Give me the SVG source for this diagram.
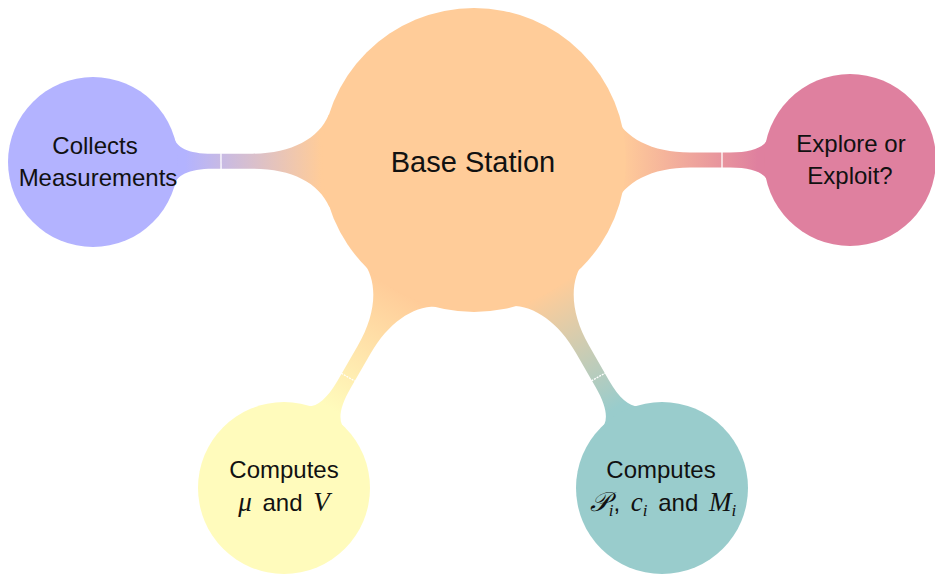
<svg xmlns="http://www.w3.org/2000/svg" width="935" height="574" viewBox="0 0 935 574">
<style>
text{font-family:"Liberation Sans",Arial,sans-serif;fill:#111;text-anchor:middle}
.t{font-size:24px}
.b{font-size:29px}
.mline{word-spacing:4px}
.m{font-family:"Liberation Serif","DejaVu Serif",serif;font-style:italic;font-size:27px}
.sub{font-size:17px}
.sep{stroke:#fff;stroke-width:1.3;fill:none}
</style>
<defs>
<path id="conn" d="M70,-25 L81,-25 C83,-14 95,-7.5 120,-7.5 L160,-7.5 C198,-7.5 226,-22 236,-46 L252,-46 L252,46 L236,46 C226,22 198,7.5 160,7.5 L120,7.5 C95,7.5 83,14 81,25 L70,25 Z"/>
<linearGradient id="gP" gradientUnits="userSpaceOnUse" x1="85" y1="0" x2="228" y2="0"><stop offset="0.05" stop-color="#B3B3FF"/><stop offset="1" stop-color="#FFCC99"/></linearGradient>
<linearGradient id="gR" gradientUnits="userSpaceOnUse" x1="85" y1="0" x2="228" y2="0"><stop offset="0.05" stop-color="#DF809F"/><stop offset="1" stop-color="#FFCC99"/></linearGradient>
<linearGradient id="gY" gradientUnits="userSpaceOnUse" x1="85" y1="0" x2="228" y2="0"><stop offset="0.05" stop-color="#FFFBBC"/><stop offset="1" stop-color="#FFCC99"/></linearGradient>
<linearGradient id="gT" gradientUnits="userSpaceOnUse" x1="85" y1="0" x2="228" y2="0"><stop offset="0.05" stop-color="#99CCCC"/><stop offset="1" stop-color="#FFCC99"/></linearGradient>
</defs>
<rect width="935" height="574" fill="#fff"/>
<g id="connectors">
<g transform="translate(93,162) rotate(-0.3)"><use href="#conn" fill="url(#gP)"/><line class="sep" x1="128" y1="-8" x2="128" y2="8"/></g>
<g transform="translate(850,160) rotate(180)"><use href="#conn" fill="url(#gR)"/><line class="sep" x1="128" y1="-8" x2="128" y2="8"/></g>
<g transform="translate(284,488) rotate(-59.9)"><use href="#conn" fill="url(#gY)"/><line class="sep" x1="128" y1="-8" x2="128" y2="8" stroke-dasharray="2 1"/></g>
<g transform="translate(662,488) rotate(-119.8)"><use href="#conn" fill="url(#gT)"/><line class="sep" x1="128" y1="-8" x2="128" y2="8" stroke-dasharray="2 1"/></g>
</g>
<g id="base">
<circle cx="474" cy="160" r="152" fill="#FFCC99"/>
<text class="b" x="473" y="172">Base Station</text>
</g>
<g id="collects">
<circle cx="93" cy="162" r="85" fill="#B3B3FF"/>
<text class="t" x="95" y="154">Collects</text>
<text class="t" x="98" y="186">Measurements</text>
</g>
<g id="explore">
<circle cx="850" cy="160" r="86" fill="#DF809F"/>
<text class="t" x="851" y="152">Explore or</text>
<text class="t" x="850" y="184">Exploit?</text>
</g>
<g id="computes-mu">
<circle cx="284" cy="488" r="86" fill="#FFFBBC"/>
<text class="t" x="284" y="478">Computes</text>
<text class="t mline" x="284" y="511"><tspan class="m">μ</tspan> and <tspan class="m">V</tspan></text>
</g>
<g id="computes-p">
<circle cx="662" cy="488" r="86" fill="#99CCCC"/>
<text class="t" x="661" y="478">Computes</text>
<text class="t mline" x="663" y="511"><tspan class="m">𝒫</tspan><tspan class="m sub" dy="5">i</tspan><tspan dy="-5">, </tspan><tspan class="m">c</tspan><tspan class="m sub" dy="5">i</tspan><tspan dy="-5"> and </tspan><tspan class="m">M</tspan><tspan class="m sub" dy="5">i</tspan></text>
</g>
</svg>
